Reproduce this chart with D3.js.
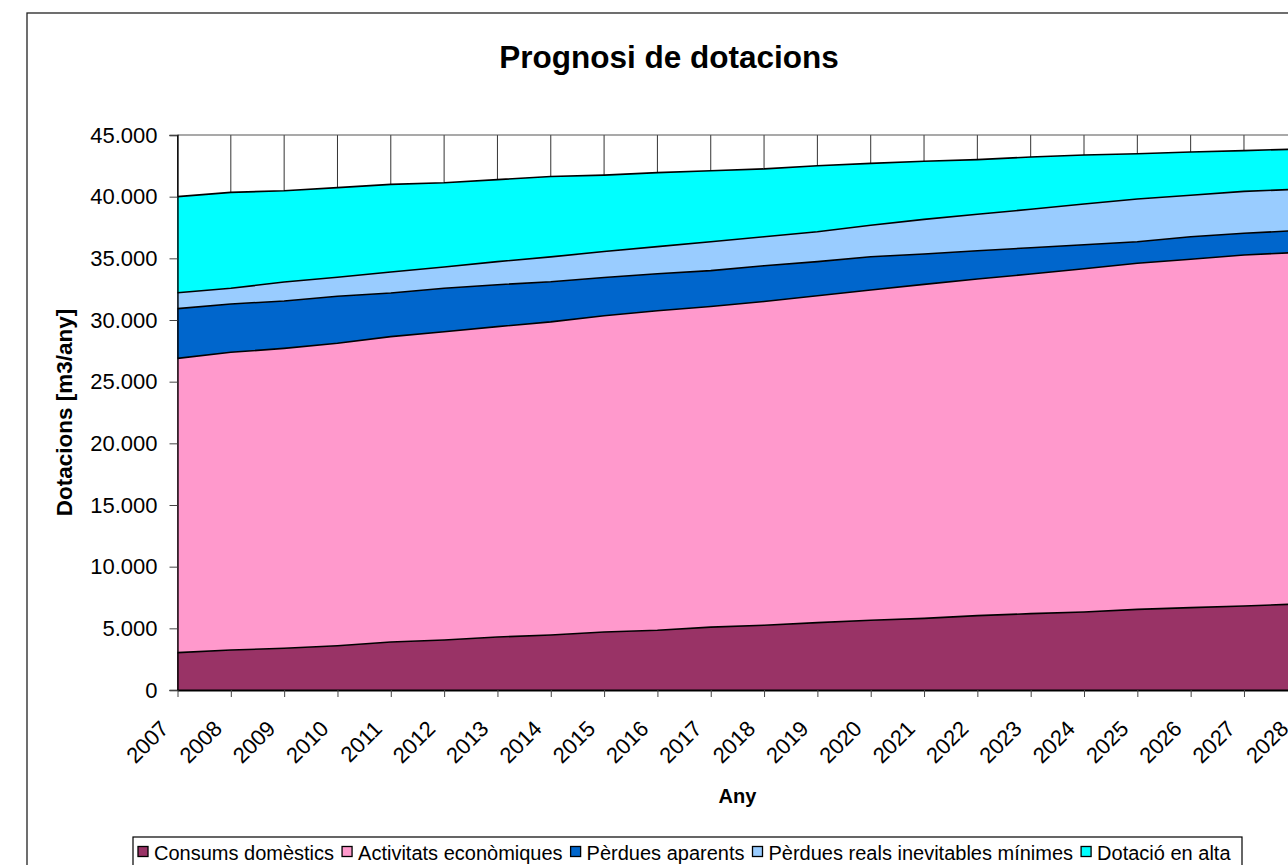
<!DOCTYPE html>
<html><head><meta charset="utf-8">
<script src="https://cdn.jsdelivr.net/npm/d3@7"></script>
<style>
body{margin:0;background:#fff;overflow:hidden}
text{font-family:"Liberation Sans",Arial,sans-serif;fill:#000}
</style>
</head><body>
<svg id="c" width="1288" height="865"></svg>
<script>
const years = [2007,2008,2009,2010,2011,2012,2013,2014,2015,2016,2017,2018,2019,2020,2021,2022,2023,2024,2025,2026,2027,2028];
const consumsDomestics      = [3030,3240,3380,3590,3890,4050,4300,4460,4700,4850,5100,5250,5460,5650,5810,6030,6190,6320,6540,6680,6810,6970];
const activitatsEconomiques = [23860,24140,24320,24520,24760,25000,25160,25390,25650,25900,26000,26250,26510,26780,27080,27290,27540,27840,28060,28240,28460,28510];
const perduesAparents       = [4030,3920,3840,3810,3540,3520,3400,3250,3100,3000,2900,2900,2760,2700,2460,2300,2130,1940,1750,1830,1760,1770];
const perduesReals          = [1290,1270,1540,1540,1700,1730,1870,2020,2100,2200,2350,2350,2430,2550,2810,2950,3120,3300,3460,3360,3400,3350];
const dotacioAlta           = [7790,7780,7400,7270,7110,6830,6650,6520,6200,6000,5750,5500,5350,5020,4710,4430,4240,3980,3670,3510,3300,3260];
const seriesNames  = ["Consums domèstics","Activitats econòmiques","Pèrdues aparents","Pèrdues reals inevitables mínimes","Dotació en alta"];
const seriesColors = ["#993366","#FF99CC","#0066CC","#99CCFF","#00FFFF"];
const yTicks = [0,5000,10000,15000,20000,25000,30000,35000,40000,45000];
const titleText = "Prognosi de dotacions";
const yTitle = "Dotacions [m3/any]";
const xTitle = "Any";

const seriesValues = [consumsDomestics, activitatsEconomiques, perduesAparents, perduesReals, dotacioAlta];
const table = years.map((yr,i)=>{ const o={year:yr}; seriesNames.forEach((n,k)=>o[n]=seriesValues[k][i]); return o; });
const stacked = d3.stack().keys(seriesNames)(table);

const svg = d3.select("#c");
const L = 177.5, R = 1297.3, T = 135, B = 690;
const x = d3.scaleLinear().domain([2007,2028]).range([L,R]);
const y = d3.scaleLinear().domain([0,45000]).range([B,T]);
const loc = d3.formatLocale({decimal:",",thousands:".",grouping:[3],currency:["","€"]});
const fmt = loc.format(",d");

// outer chart border
svg.append("rect").attr("x",27).attr("y",13).attr("width",1400).attr("height",1000)
  .attr("fill","#fff").attr("stroke","#222").attr("stroke-width",1.3);

// title
svg.append("text").attr("x",669).attr("y",68).attr("text-anchor","middle")
  .attr("font-size",31.5).attr("font-weight","bold").text(titleText);

// vertical gridlines
svg.append("g").selectAll("line").data(years).join("line")
  .attr("x1",d=>x(d)).attr("x2",d=>x(d)).attr("y1",y(45000)).attr("y2",y(0))
  .attr("stroke","#333").attr("stroke-width",1);
// top line
svg.append("line").attr("x1",L).attr("x2",R).attr("y1",y(45000)).attr("y2",y(45000))
  .attr("stroke","#555").attr("stroke-width",1.2);

// areas
const area = d3.area().x((d,i)=>x(years[i])).y0(d=>y(d[0])).y1(d=>y(d[1]));
const topLine = d3.line().x((d,i)=>x(years[i])).y(d=>y(d[1]));
svg.append("g").selectAll("path").data(stacked).join("path")
  .attr("d",area).attr("fill",(d,i)=>seriesColors[i]);
svg.append("g").selectAll("path").data(stacked).join("path")
  .attr("d",topLine).attr("fill","none").attr("stroke","#000").attr("stroke-width",1.6);

// y axis
const yAxis = d3.axisLeft(y).tickValues(yTicks).tickFormat(fmt).tickSize(8).tickPadding(12);
const gy = svg.append("g").attr("transform",`translate(${L},0)`).call(yAxis);
gy.select(".domain").attr("stroke","#000").attr("stroke-width",1.3);
gy.selectAll(".tick line").attr("stroke","#444");
gy.selectAll("text").attr("font-size",22).attr("font-family","Liberation Sans, Arial, sans-serif").attr("fill","#000");

// x axis
const xAxis = d3.axisBottom(x).tickValues(years).tickFormat(d=>String(d)).tickSize(7).tickSizeOuter(0);
const gx = svg.append("g").attr("transform",`translate(0,${B})`).call(xAxis);
gx.select(".domain").attr("stroke","#000").attr("stroke-width",2);
gx.selectAll(".tick line").attr("stroke","#444");
gx.selectAll("text").attr("font-size",22).attr("font-family","Liberation Sans, Arial, sans-serif").attr("fill","#000")
  .attr("text-anchor","end").attr("dy",null).attr("y",null)
  .attr("transform","translate(-8,40) rotate(-45)");

// axis titles
svg.append("text").attr("transform",`translate(72,${(T+B)/2}) rotate(-90)`).attr("text-anchor","middle")
  .attr("font-size",22.5).attr("font-weight","bold").text(yTitle);
svg.append("text").attr("x",(L+R)/2).attr("y",803).attr("text-anchor","middle")
  .attr("font-size",20).attr("font-weight","bold").text(xTitle);

// legend
const lg = svg.append("g");
lg.append("rect").attr("x",133).attr("y",837).attr("width",1109).attr("height",40)
  .attr("fill","#fff").attr("stroke","#000").attr("stroke-width",1.2);
let cx = 138;
seriesNames.forEach((n,i)=>{
  lg.append("rect").attr("x",cx).attr("y",846.5).attr("width",10).attr("height",10)
    .attr("fill",seriesColors[i]).attr("stroke","#000").attr("stroke-width",1.3);
  const t = lg.append("text").attr("x",cx+16).attr("y",860).attr("font-size",20).text(n);
  cx += 16 + t.node().getComputedTextLength() + 8;
});
</script>
</body></html>
